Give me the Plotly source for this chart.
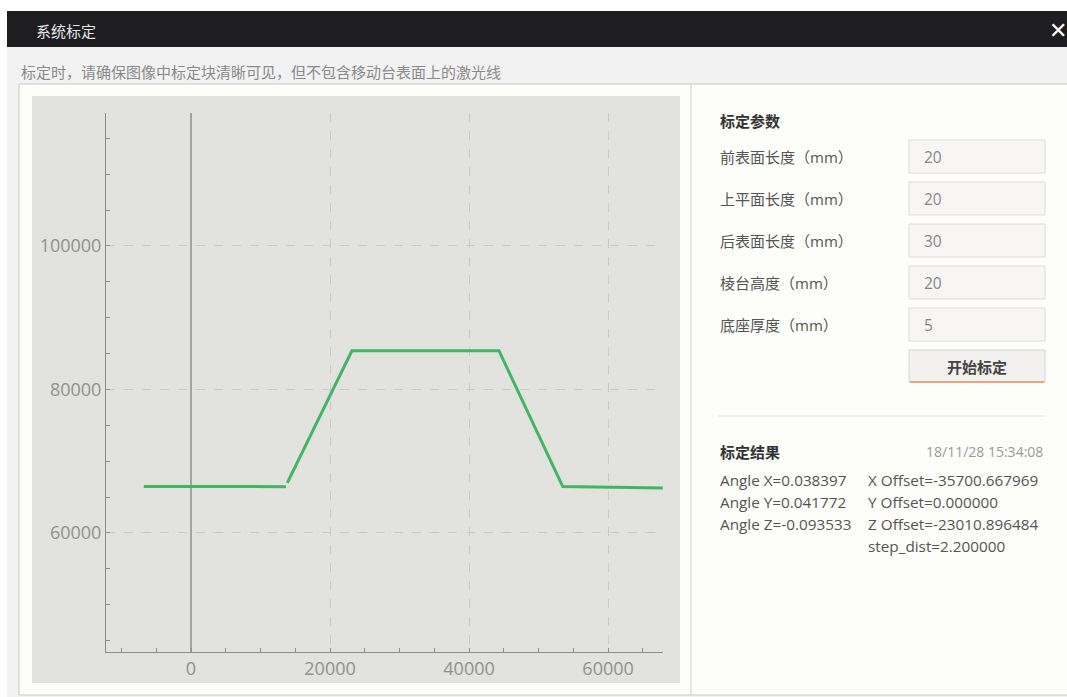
import plotly.graph_objects as go

# ---------------- data ----------------
profile_x = [-6800, 0, 6000, 13650, None, 13850, 23150, 30000, 44300, 53480, 60000, 67870]
profile_y = [66480, 66470, 66460, 66450, None, 66980, 85380, 85400, 85400, 66460, 66400, 66280]

x_tick_vals = [0, 20000, 40000, 60000]
x_tick_text = ["0", "20000", "40000", "60000"]
y_tick_vals = [60000, 80000, 100000]
y_tick_text = ["60000", "80000", "100000"]
x_range = [-12230, 67900]
y_range = [43400, 118540]

param_labels = ["前表面长度（mm）", "上平面长度（mm）", "后表面长度（mm）", "棱台高度（mm）", "底座厚度（mm）"]
param_values = ["20", "20", "30", "20", "5"]

result_col1 = ["Angle X=0.038397", "Angle Y=0.041772", "Angle Z=-0.093533"]
result_col2 = ["X Offset=-35700.667969", "Y Offset=0.000000", "Z Offset=-23010.896484", "step_dist=2.200000"]

window_title = "系统标定"
hint_text = "标定时，请确保图像中标定块清晰可见，但不包含移动台表面上的激光线"
params_title = "标定参数"
button_text = "开始标定"
results_title = "标定结果"
timestamp = "18/11/28 15:34:08"

# ---------------- layout helpers ----------------
W, H = 1067, 697
FONT = "Open Sans, Noto Sans CJK SC, sans-serif"
CJK = "Noto Sans CJK SC, sans-serif"


def px(x):
    return x / W


def py(y):
    return 1 - y / H


shapes = []
annotations = []


def rect(x0, y0, x1, y1, fill, line_color=None, line_width=0, layer="below"):
    shapes.append(dict(
        type="rect", xref="paper", yref="paper",
        x0=px(x0), x1=px(x1), y0=py(y1), y1=py(y0),
        fillcolor=fill,
        line=dict(color=line_color or fill, width=line_width),
        layer=layer,
    ))


def hline(x0, x1, y, color, width=1, layer="below"):
    shapes.append(dict(type="line", xref="paper", yref="paper",
                       x0=px(x0), x1=px(x1), y0=py(y), y1=py(y),
                       line=dict(color=color, width=width), layer=layer))


def vline(x, y0, y1, color, width=1, layer="below"):
    shapes.append(dict(type="line", xref="paper", yref="paper",
                       x0=px(x), x1=px(x), y0=py(y0), y1=py(y1),
                       line=dict(color=color, width=width), layer=layer))


def text(x, y, s, size=15, color="#555555", anchor="left", family=FONT):
    annotations.append(dict(
        xref="paper", yref="paper", x=px(x), y=py(y), text=s,
        showarrow=False, xanchor=anchor, yanchor="middle",
        font=dict(family=family, size=size, color=color),
    ))


# window frame
rect(7, 47, 1067, 697, "#f2f2f2")
rect(7, 11, 1067, 47, "#1e1e20")
rect(19, 84, 1068, 695, "#fdfdf9", "#c9c9c9", 1)
vline(691, 84, 695, "#cfcfcf", 1)
# chart background
rect(32, 96, 680, 683, "#e2e2de")

# title bar
text(34, 30, window_title, size=15, color="#e6e6e6", family=CJK)
text(1058, 30, "✕", size=22, color="#ffffff", anchor="center", family="DejaVu Sans")
# hint
text(19, 72, hint_text, size=15, color="#8a8a8a", family=CJK)

# parameter panel
text(718, 121, "<b>" + params_title + "</b>", size=15, color="#333333", family=CJK)
for i, (lab, val) in enumerate(zip(param_labels, param_values)):
    yc = 157 + 42 * i
    text(718, yc, lab, size=15, color="#555555")
    rect(909, yc - 17, 1045, yc + 16, "#f8f6f4", "#dcdcdc", 1)
    text(922, yc, val, size=15.5, color="#888888")

# button
rect(909, 350, 1045, 382, "#f2f1f0", "#d4d4d4", 1)
hline(910, 1044, 382, "#f4a274", 2)
text(977, 367, "<b>" + button_text + "</b>", size=15, color="#444444", anchor="center", family=CJK)

# divider
hline(718, 1045, 416, "#e4e4e4", 1)

# results panel
text(718, 451, "<b>" + results_title + "</b>", size=15, color="#333333", family=CJK)
text(1045, 451, timestamp, size=14, color="#9a9a9a", anchor="right")
for i, s in enumerate(result_col1):
    text(718, 480 + 22 * i, s, size=15.3, color="#555555")
for i, s in enumerate(result_col2):
    text(866, 480 + 22 * i, s, size=15.3, color="#555555")

# ---------------- figure ----------------
fig = go.Figure()
fig.add_trace(go.Scatter(
    x=profile_x, y=profile_y, mode="lines", connectgaps=False,
    line=dict(color="#3cb863", width=3), hoverinfo="skip", showlegend=False,
))

axis_common = dict(
    showline=True, linecolor="#8c8c8c", linewidth=1,
    ticks="inside", ticklen=4, tickcolor="#8c8c8c",
    showgrid=True, gridcolor="#c9c9c6", griddash="dash", gridwidth=1,
    tickfont=dict(family="Open Sans, sans-serif", size=18, color="#919191"),
    minor=dict(ticks="inside", ticklen=4, tickcolor="#8c8c8c", dtick=5000, showgrid=False),
    fixedrange=True,
)

fig.update_layout(
    width=W, height=H, autosize=False,
    margin=dict(l=0, r=0, t=0, b=0, pad=0),
    paper_bgcolor="#ffffff", plot_bgcolor="rgba(0,0,0,0)",
    shapes=shapes, annotations=annotations,
    showlegend=False,
    xaxis=dict(
        domain=[px(106), px(663)], range=x_range,
        tickmode="array", tickvals=x_tick_vals, ticktext=x_tick_text,
        zeroline=True, zerolinecolor="#a3a3a3", zerolinewidth=1.5,
        anchor="y", **axis_common,
    ),
    yaxis=dict(
        domain=[py(652), py(113)], range=y_range,
        tickmode="array", tickvals=y_tick_vals, ticktext=y_tick_text,
        zeroline=False, anchor="x", **axis_common,
    ),
)

fig.write_html("out.html", config=dict(displayModeBar=False))
